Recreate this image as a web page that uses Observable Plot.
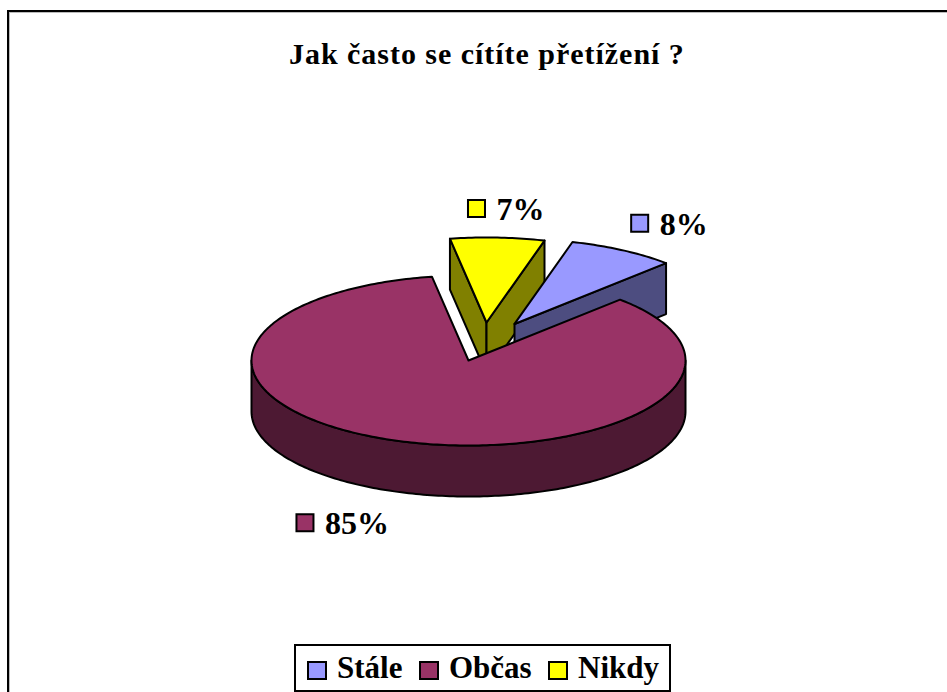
<!DOCTYPE html>
<html lang="cs">
<head>
<meta charset="utf-8">
<title>Jak často se cítíte přetížení ?</title>
<script src="https://cdn.jsdelivr.net/npm/d3@7"></script>
<script src="https://cdn.jsdelivr.net/npm/@observablehq/plot@0.6"></script>
<style>
  html, body { margin: 0; padding: 0; background: #fff; overflow: hidden; }
  body { width: 947px; height: 692px; position: relative;
         font-family: "Liberation Serif", serif; font-weight: bold; color: #000; }
  #frame { position: absolute; left: 7px; top: 10px; width: 960px; height: 720px;
           border-left: 2px solid #000; border-top: 2px solid #000;
           box-shadow: inset 1px 1px 0 #bbb; }
  #chart { position: absolute; left: 0; top: 0; }
  #chart svg { display: block; background: transparent; }
  #title { position: absolute; left: 289px; top: 36px; width: 394px; text-align: left;
           white-space: nowrap; font-size: 30px; line-height: 36px; letter-spacing: 0.97px; }
  #legend { position: absolute; left: 294px; top: 644px; width: 373px; height: 44px;
            border: 2px solid #000; background: #fff; }
  #legend .key { position: absolute; top: 15px; width: 16px; height: 15px; border: 2px solid #000; }
  #legend .name { position: absolute; top: 4px; font-size: 31px; line-height: 36px; white-space: nowrap; }
</style>
</head>
<body>
<div id="frame"></div>
<div id="chart"></div>
<div id="title">Jak často se cítíte přetížení ?</div>
<div id="legend"></div>
<script>
// Answers and their shares, in percent
const categories = ["Stále", "Občas", "Nikdy"];
const shares = [8, 85, 7];
const shareLabels = ["8%", "85%", "7%"];
const topColors = ["#9999ff", "#993366", "#ffff00"];
const sideColors = ["#4d4d80", "#4d1933", "#808000"];

// Pie layout in plan-view units, where the disc has radius 1
const firstAngle = 15.5;        // degrees clockwise from the back of the pie
const thickness = 51 / 85;      // height of the rim
const explode = [[0.212, 0.43], [0, 0], [0.083, 0.447]];
const labelShift = [[17 / 217, 27 / 85], [-99 / 217, -81 / 85], [-21 / 217, 29 / 85]];
const legendSpots = [[11, 41], [123, 153], [252, 282]];

// Turn the shares into slices of the turn
const total = d3.sum(shares);
let running = firstAngle;
const slices = categories.map((name, i) => {
  const start = running;
  const end = start + (shares[i] / total) * 360;
  running = end;
  return {name, i, start, end, ox: explode[i][0], oy: explode[i][1]};
});

const rad = (a) => (a * Math.PI) / 180;
const rimPoint = (s, a, drop = 0) => ({x: s.ox + Math.sin(rad(a)), y: s.oy + Math.cos(rad(a)) - drop});
const hub = (s, drop = 0) => ({x: s.ox, y: s.oy - drop});
const arc = (s, a0, a1, drop = 0) => {
  const n = Math.max(2, Math.ceil(Math.abs(a1 - a0)));
  return d3.range(n + 1).map((k) => rimPoint(s, a0 + ((a1 - a0) * k) / n, drop));
};
const closed = (pts) => [...pts, pts[0]];

// Faces of one slice, in back-to-front order
function wallsOf(s) {
  const faces = [];
  // A cut edge is seen only when its outward side turns towards the viewer
  if (Math.sin(rad(s.start)) < 0)
    faces.push(closed([hub(s), rimPoint(s, s.start), rimPoint(s, s.start, thickness), hub(s, thickness)]));
  if (Math.sin(rad(s.end)) > 0)
    faces.push(closed([hub(s), rimPoint(s, s.end), rimPoint(s, s.end, thickness), hub(s, thickness)]));
  // The rim is seen on the front half of the disc only
  for (const turn of [0, 360]) {
    const a0 = Math.max(s.start, 90 + turn);
    const a1 = Math.min(s.end, 270 + turn);
    if (a1 > a0) faces.push(closed([...arc(s, a0, a1), ...arc(s, a1, a0, thickness)]));
  }
  return faces;
}
const topOf = (s) => closed([hub(s), ...arc(s, s.start, s.end)]);

const face = (pts, fill) =>
  Plot.line(pts, {x: "x", y: "y", fill, stroke: "#000", strokeWidth: 2, strokeLinejoin: "round"});

// The large slice sits in front of the two pulled-out ones
const paintOrder = [2, 0, 1].map((i) => slices[i]);
const pieMarks = paintOrder.flatMap((s) => [
  ...wallsOf(s).map((pts) => face(pts, sideColors[s.i])),
  face(topOf(s), topColors[s.i])
]);

// Percentage labels with their colour keys, placed from the middle of each slice's rim
const labels = slices.map((s) => {
  const p = rimPoint(s, (s.start + s.end) / 2);
  return {x: p.x + labelShift[s.i][0], y: p.y + labelShift[s.i][1], text: shareLabels[s.i], fill: topColors[s.i]};
});
const labelMarks = labels.flatMap((d) => [
  Plot.dot([d], {x: "x", y: "y", symbol: "square", r: 9.6, fill: d.fill, stroke: "#000", strokeWidth: 2}),
  Plot.text([d], {x: "x", y: "y", text: "text", dx: 20, dy: 1, textAnchor: "start", fontSize: 32,
                  fontWeight: "bold", fontFamily: "Liberation Serif", fill: "#000"})
]);

const chart = Plot.plot({
  width: 947,
  height: 692,
  margin: 0,
  x: {domain: [-1, 1], range: [251, 685], axis: null},
  y: {domain: [-1, 1], range: [445, 275], axis: null},
  marks: [...pieMarks, ...labelMarks]
});
document.getElementById("chart").appendChild(chart);

// Legend under the pie
const legend = document.getElementById("legend");
categories.forEach((name, i) => {
  const key = document.createElement("span");
  key.className = "key";
  key.style.left = legendSpots[i][0] + "px";
  key.style.background = topColors[i];
  const text = document.createElement("span");
  text.className = "name";
  text.style.left = legendSpots[i][1] + "px";
  text.textContent = name;
  legend.append(key, text);
});
</script>
</body>
</html>
